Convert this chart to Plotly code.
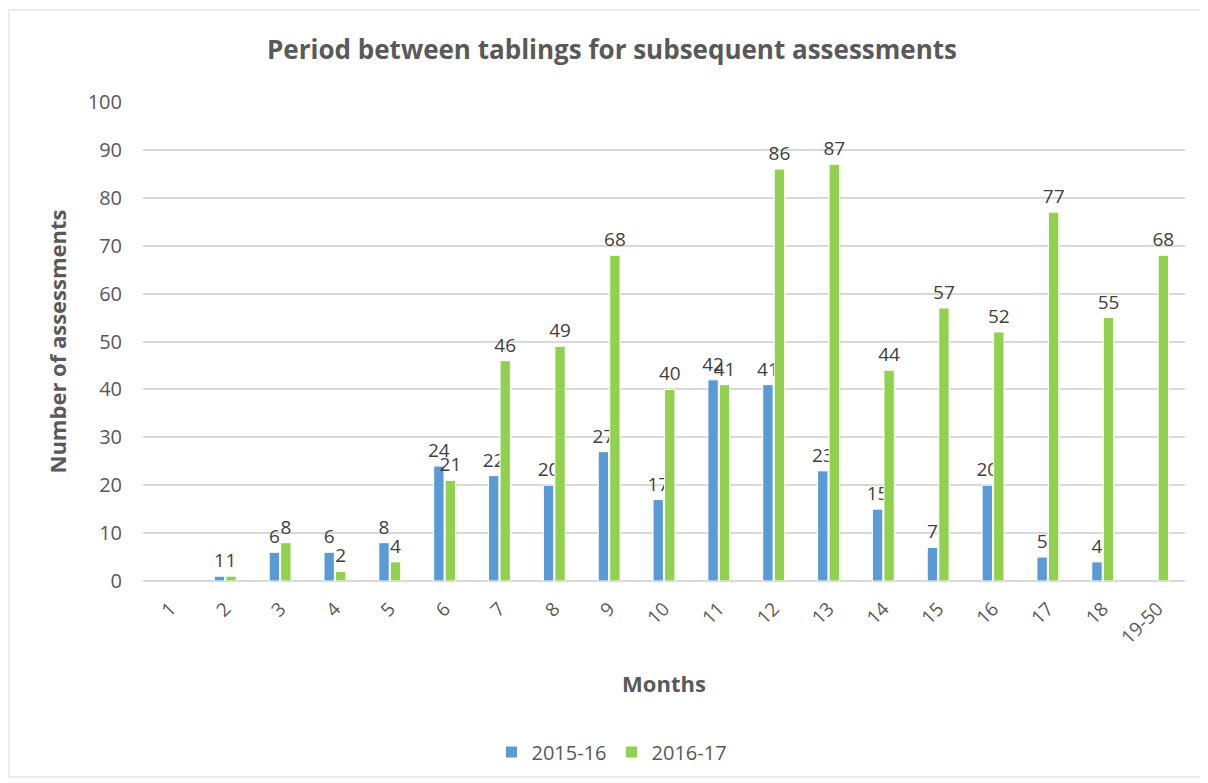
import plotly.graph_objects as go

months = ["1", "2", "3", "4", "5", "6", "7", "8", "9", "10", "11", "12", "13",
          "14", "15", "16", "17", "18", "19-50"]
y2015 = [None, 1, 6, 6, 8, 24, 22, 20, 27, 17, 42, 41, 23, 15, 7, 20, 5, 4, None]
y2016 = [None, 1, 8, 2, 4, 21, 46, 49, 68, 40, 41, 86, 87, 44, 57, 52, 77, 55, 68]
series_names = ["2015-16", "2016-17"]
yticks = [0, 10, 20, 30, 40, 50, 60, 70, 80, 90, 100]

FONT = "Open Sans, Liberation Sans, sans-serif"
OFF = 8  # browser body margin
W, H = 1208 - OFF, 783 - OFF
L, T = 143 - OFF, 102 - OFF
pw, ph = 1042, 479
R = W - L - pw
B = H - T - ph

fig = go.Figure()
for name, vals, col in [(series_names[0], y2015, "#5B9BD5"),
                        (series_names[1], y2016, "#92D050")]:
    fig.add_trace(go.Bar(
        x=months, y=vals, name=name,
        marker=dict(color=col, line=dict(color="white", width=1)),
        text=[("" if v is None else str(v)) for v in vals],
        textposition="outside", cliponaxis=False, constraintext="none",
        textfont=dict(family=FONT, size=19, color="#404040"),
    ))

# outer chart border (page coords -> paper coords)
def px(xp):
    return (xp - OFF - L) / pw

def py(yp):
    return (T + ph - (yp - OFF)) / ph

fig.add_shape(type="rect", xref="paper", yref="paper",
              x0=px(9), x1=px(1201), y0=py(777), y1=py(10),
              line=dict(color="#D9D9D9", width=1), fillcolor="rgba(0,0,0,0)",
              layer="below")

fig.update_layout(
    width=W, height=H, autosize=False,
    margin=dict(l=L, r=R, t=T, b=B, autoexpand=False),
    paper_bgcolor="white", plot_bgcolor="white",
    barmode="group", bargap=0.58, bargroupgap=0.1,
    title=dict(text="<b>Period between tablings for subsequent assessments</b>",
               x=(612 - OFF) / W, xanchor="center", y=1 - (50 - OFF) / H, yanchor="middle",
               font=dict(family=FONT, size=26, color="#595959")),
    font=dict(family=FONT, color="#595959"),
    xaxis=dict(tickangle=-45, tickfont=dict(size=19, color="#595959"),
               ticklabelstandoff=12,
               title=dict(text="<b>Months</b>", font=dict(size=22, color="#595959"),
                          standoff=28),
               showline=False, ticks=""),
    yaxis=dict(range=[0, 100], tickvals=yticks, tickfont=dict(size=20, color="#595959"),
               gridcolor="#D9D9D9", gridwidth=1.5, zeroline=True, zerolinecolor="#D9D9D9",
               zerolinewidth=1.5, ticks="", ticklabelstandoff=20,
               title=dict(text="<b>Number of assessments</b>",
                          font=dict(size=22, color="#595959"), standoff=14)),
    legend=dict(orientation="h", x=px(612), xanchor="center", y=py(752),
                yanchor="middle", font=dict(size=20, color="#595959"),
                itemwidth=30, tracegroupgap=0),
    showlegend=True,
)

fig.write_html("out.html")
